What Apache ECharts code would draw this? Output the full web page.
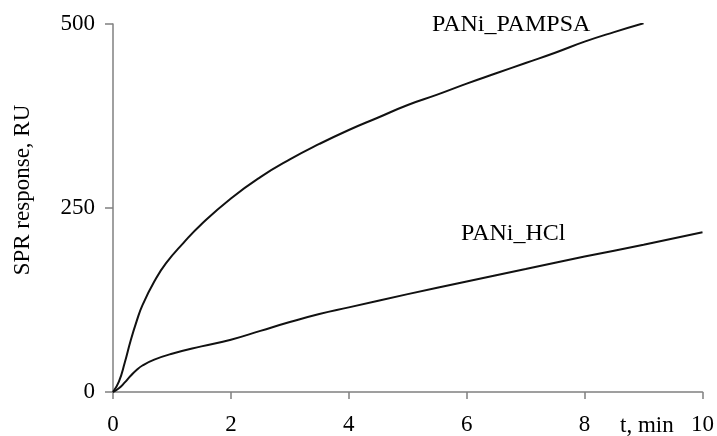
<!DOCTYPE html>
<html>
<head>
<meta charset="utf-8">
<script src="https://cdn.jsdelivr.net/npm/echarts@6/dist/echarts.min.js"></script>
<style>html,body{margin:0;padding:0;background:#fff;}#chart{width:717px;height:436px;}</style>
</head>
<body>
<div id="chart"></div>
<script>
// Time (min) and SPR response (RU)
var tPampsa = [0, 0.1, 0.2, 0.3, 0.4, 0.5, 0.7, 0.9, 1.2, 1.5, 2, 2.5, 3, 3.5, 4, 4.5, 5, 5.5, 6, 6.5, 7, 7.5, 8, 8.5, 9];
var vPampsa = [0, 14, 40, 70, 96, 118, 150, 175, 203, 228, 263, 292, 316, 337, 356, 373, 390, 404, 419, 433, 447, 461, 476, 489, 501];
var tHcl = [0, 0.1, 0.2, 0.3, 0.4, 0.5, 0.7, 1, 1.5, 2, 2.5, 3, 3.5, 4, 5, 6, 7, 8, 9, 10];
var vHcl = [0, 5, 13, 22, 30, 36, 44, 52, 62, 71, 83, 95, 106, 115, 133, 150, 167, 184, 200, 217];
var xTicks = [0, 2, 4, 6, 8, 10];
var yTicks = [0, 250, 500];
var seriesNames = ['PANi_PAMPSA', 'PANi_HCl'];

function pairs(t, v) { return t.map(function (x, i) { return [x, v[i]]; }); }

var font = "'Liberation Serif', serif";
var axisColor = '#808080';
var chart = echarts.init(document.getElementById('chart'));
chart.setOption({
  animation: false,
  backgroundColor: '#fff',
  grid: { left: 113, right: 11, top: 24, bottom: 43 },
  xAxis: {
    type: 'value', min: xTicks[0], max: xTicks[xTicks.length - 1], interval: 2,
    axisLine: { lineStyle: { color: axisColor, width: 1.5 } },
    axisTick: { show: true, length: 7, lineStyle: { color: axisColor, width: 1.5 } },
    axisLabel: { color: '#000', fontFamily: font, fontSize: 23, margin: 21 },
    splitLine: { show: false }
  },
  yAxis: {
    type: 'value', min: yTicks[0], max: yTicks[yTicks.length - 1], interval: 250,
    axisLine: { show: true, lineStyle: { color: axisColor, width: 1.5 } },
    axisTick: { show: true, length: 8, lineStyle: { color: axisColor, width: 1.5 } },
    axisLabel: { color: '#000', fontFamily: font, fontSize: 23, margin: 18 },
    splitLine: { show: false }
  },
  series: [
    { name: seriesNames[0], type: 'line', data: pairs(tPampsa, vPampsa), smooth: 0.5, showSymbol: false,
      clip: true, lineStyle: { color: '#111', width: 2 } },
    { name: seriesNames[1], type: 'line', data: pairs(tHcl, vHcl), smooth: 0.5, showSymbol: false,
      lineStyle: { color: '#111', width: 2 } }
  ],
  graphic: [
    { type: 'text', left: 432, top: 13, style: { text: seriesNames[0], fontFamily: font, fontSize: 24, fill: '#000' } },
    { type: 'text', left: 461, top: 222, style: { text: seriesNames[1], fontFamily: font, fontSize: 24, fill: '#000' } },
    { type: 'text', left: 620, top: 414, style: { text: 't, min', fontFamily: font, fontSize: 23, fill: '#000' } },
    { type: 'text', x: 23, y: 190, rotation: Math.PI / 2,
      style: { text: 'SPR response, RU', fontFamily: font, fontSize: 23, fill: '#000', align: 'center', verticalAlign: 'middle' } }
  ]
});
</script>
</body>
</html>
